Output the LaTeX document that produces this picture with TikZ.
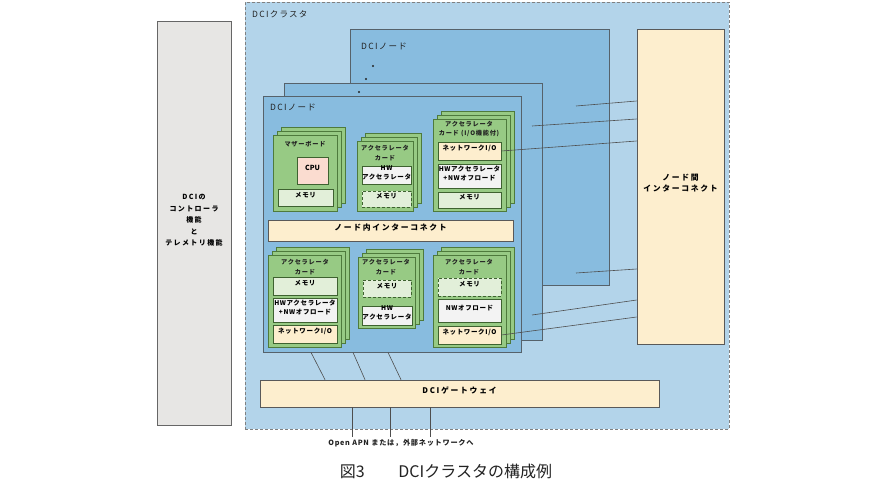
\documentclass[tikz,border=0pt]{standalone}
\usepackage{fontspec}
\setmainfont{Noto Sans CJK JP}
\usetikzlibrary{fit,positioning}

\definecolor{clusterblue}{HTML}{B3D4EA}
\definecolor{nodeblue}{HTML}{88BCDF}
\definecolor{cardgreen}{HTML}{97CA84}
\definecolor{memgreen}{HTML}{E2EFD9}
\definecolor{cream}{HTML}{FDEECE}
\definecolor{cpupink}{HTML}{FBDCD0}
\definecolor{hwwhite}{HTML}{F3F3F3}
\definecolor{ctrlgray}{HTML}{E7E6E4}
\definecolor{edgegray}{HTML}{56626B}
\definecolor{cardedge}{HTML}{4E7A3C}
\definecolor{inkgray}{HTML}{222222}

\tikzset{
  box/.style={draw=edgegray, line width=0.7pt, inner sep=0pt, align=center,
    font=\fontsize{6.5}{9}\selectfont\bfseries\addfontfeature{LetterSpace=10}},
  ctrl/.style={box, fill=ctrlgray, draw=gray!80!black,
    font=\fontsize{7}{11.5}\selectfont\bfseries\addfontfeature{LetterSpace=20}},
  cluster/.style={draw=gray, densely dashed, line width=0.5pt, fill=clusterblue, inner sep=0pt},
  dcinode/.style={draw=edgegray, line width=0.8pt, fill=nodeblue, inner sep=0pt},
  card/.style={draw=cardedge, line width=0.7pt, fill=cardgreen, inner sep=0pt},
  mem/.style={box, fill=memgreen, draw=cardedge!80!black},
  dmem/.style={mem, densely dashed},
  cpu/.style={box, fill=cpupink, draw=cardedge!80!black,
    font=\fontsize{7}{9}\selectfont\bfseries},
  hw/.style={box, fill=hwwhite, draw=cardedge!80!black},
  nwio/.style={box, fill=cream, draw=cardedge!80!black},
  bar/.style={box, fill=cream, draw=gray!70!black,
    font=\fontsize{7.8}{11}\selectfont\bfseries\addfontfeature{LetterSpace=22}},
  lbl/.style={inner sep=0pt, text=inkgray,
    font=\fontsize{8.5}{9}\selectfont\addfontfeature{LetterSpace=15}},
  cardtxt/.style={inner sep=0pt, align=center, text=inkgray,
    font=\fontsize{6.2}{9.5}\selectfont\bfseries\addfontfeature{LetterSpace=12}},
  wire/.style={draw=inkgray!80, line width=0.6pt},
}

% three stacked cards, the front one named #1
\newcommand{\cardstack}[5]{%
  \foreach \d in {8,4}
    \draw[card] ({#2+\d},{#3-\d}) rectangle ({#4+\d},{#5-\d});
  \node[card, fit={(#2,#3) (#4,#5)}] (#1) {};}

\begin{document}
\begin{tikzpicture}[x=1pt,y=-1pt]
\useasboundingbox (0,0) rectangle (890,500);

% controller and cluster
\node[ctrl, fit={(157,21) (231,425)}] (ctrl) {DCIの\\コントローラ\\機能\\と\\テレメトリ機能};
\node[cluster, fit={(245,2) (729,429)}] (dci) {};
\node[lbl, anchor=west] (dci-t) at (252,14) {DCIクラスタ};

% DCI nodes
\node[dcinode, fit={(350,29) (609,285)}] (n3) {};
\node[lbl, anchor=west] (n3-t) at (361,46) {DCIノード};
\fill[inkgray] (373,66) circle (1.2) (366,79) circle (1.2);
\node[dcinode, fit={(284,83) (542,340)}] (n2) {};
\fill[inkgray] (359,92) circle (1.2);
\node[dcinode, fit={(263,96) (521,352)}] (n1) {};
\node[lbl, anchor=west] (n1-t) at (270,107) {DCIノード};

% interconnects and gateway
\node[bar, fit={(637,29) (724,344)}] (ic) {ノード間\\インターコネクト};
\node[bar, fit={(268,220) (513,241)}] (lic) {ノード内インターコネクト};
\node[bar, fit={(260,380) (659,407)}] (gw) {DCIゲートウェイ};

% upper cards
\cardstack{mb}{273}{135}{337}{211}
\node[cardtxt] (mb-t) at (305,144) {マザーボード};
\node[cpu, fit={(297,157) (328,184)}] (mb-cpu) {CPU};
\node[mem, fit={(278,189) (333,206)}] (mb-mem) {メモリ};

\cardstack{acc1}{357}{141}{413}{211}
\node[cardtxt] (acc1-t) at (385,153) {アクセラレータ\\カード};
\node[hw, fit={(362,166) (411,184)}] (acc1-hw) {HW\\アクセラレータ};
\node[dmem, fit={(362,191) (411,207)}] (acc1-mem) {メモリ};

\cardstack{acc2}{433}{119}{506}{211}
\node[cardtxt] (acc2-t) at (469,129) {アクセラレータ\\カード (I/O機能付)};
\node[nwio, fit={(438,142) (501,160)}] (acc2-io) {ネットワークI/O};
\node[hw, fit={(438,164) (501,188)}] (acc2-hw) {HWアクセラレータ\\+NWオフロード};
\node[mem, fit={(438,192) (501,208)}] (acc2-mem) {メモリ};

% lower cards
\cardstack{acc3}{268}{255}{341}{347}
\node[cardtxt] (acc3-t) at (305,267) {アクセラレータ\\カード};
\node[mem, fit={(273,277) (337,295)}] (acc3-mem) {メモリ};
\node[hw, fit={(273,298) (337,322)}] (acc3-hw) {HWアクセラレータ\\+NWオフロード};
\node[nwio, fit={(273,325) (337,343)}] (acc3-io) {ネットワークI/O};

\cardstack{acc4}{358}{257}{415}{328}
\node[cardtxt] (acc4-t) at (386,267) {アクセラレータ\\カード};
\node[dmem, fit={(363,280) (411,297)}] (acc4-mem) {メモリ};
\node[hw, fit={(362,306) (412,325)}] (acc4-hw) {HW\\アクセラレータ};

\cardstack{acc5}{433}{255}{506}{347}
\node[cardtxt] (acc5-t) at (469,267) {アクセラレータ\\カード};
\node[dmem, fit={(438,278) (501,296)}] (acc5-mem) {メモリ};
\node[hw, fit={(438,299) (501,322)}] (acc5-hw) {NWオフロード};
\node[nwio, fit={(438,326) (501,344)}] (acc5-io) {ネットワークI/O};

% links to the node interconnect
\coordinate (n3-a) at (576,106);
\coordinate (n3-b) at (576,273);
\coordinate (n2-a) at (532,126);
\coordinate (n2-b) at (532,315);
\draw[wire] (n3-a) -- (ic.west |- 0,101);
\draw[wire] (n3-b) -- (ic.west |- 0,269);
\draw[wire] (n2-a) -- (ic.west |- 0,119);
\draw[wire] (n2-b) -- (ic.west |- 0,300);
\draw[wire] (acc2-io.east) -- (ic.west |- 0,141);
\draw[wire] (acc5-io.east) -- (ic.west |- 0,317);

% links to the gateway
\draw[wire] (n1.south -| 311,0) -- (gw.north -| 325,0);
\draw[wire] (n1.south -| 353,0) -- (gw.north -| 365,0);
\draw[wire] (n1.south -| 388,0) -- (gw.north -| 401,0);

% outside
\coordinate (out1) at (352,437);
\coordinate (out2) at (390,437);
\coordinate (out3) at (430,437);
\draw[wire] (gw.south -| out1) -- (out1);
\draw[wire] (gw.south -| out2) -- (out2);
\draw[wire] (gw.south -| out3) -- (out3);
\node[lbl, font=\fontsize{7.2}{8}\selectfont\bfseries\addfontfeature{LetterSpace=10}] (out-t) at (401,443) {Open APN または，外部ネットワークへ};

\node[lbl, font=\fontsize{16}{18}\selectfont] (cap) at (446,471) {図3\hspace{2.1em}DCIクラスタの構成例};
\end{tikzpicture}
\end{document}
